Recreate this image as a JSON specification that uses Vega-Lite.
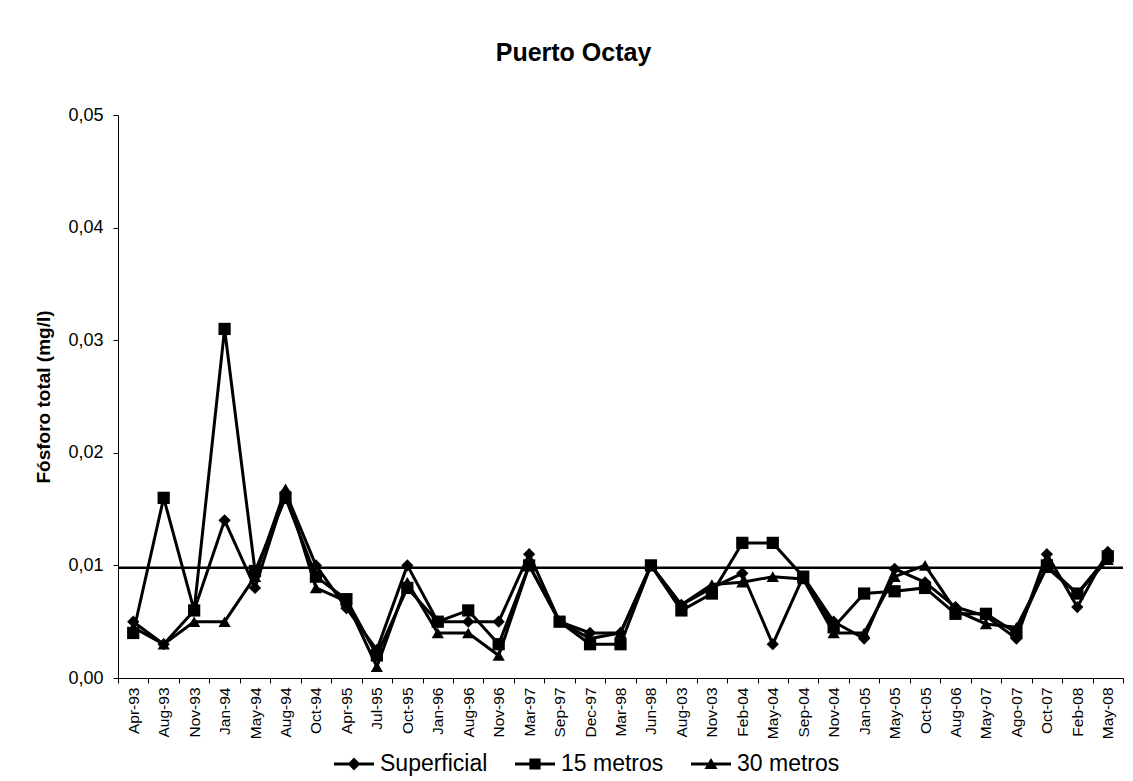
{
  "$schema": "https://vega.github.io/schema/vega-lite/v6.json",
  "autosize": {"type": "none"},
  "width": 1005,
  "height": 563,
  "padding": {"left": 118, "top": 115, "right": 10, "bottom": 103},
  "background": "white",
  "title": {
    "text": "Puerto Octay",
    "font": "Liberation Sans",
    "fontSize": 25,
    "fontWeight": "bold",
    "color": "black",
    "anchor": "middle",
    "dx": -47,
    "offset": 40
  },
  "datasets": {
    "obs": [
      {"fecha": "Apr-93", "serie": "Superficial", "valor": 0.005},
      {"fecha": "Aug-93", "serie": "Superficial", "valor": 0.003},
      {"fecha": "Nov-93", "serie": "Superficial", "valor": 0.006},
      {"fecha": "Jan-94", "serie": "Superficial", "valor": 0.014},
      {"fecha": "May-94", "serie": "Superficial", "valor": 0.008},
      {"fecha": "Aug-94", "serie": "Superficial", "valor": 0.0165},
      {"fecha": "Oct-94", "serie": "Superficial", "valor": 0.010},
      {"fecha": "Apr-95", "serie": "Superficial", "valor": 0.0062},
      {"fecha": "Jul-95", "serie": "Superficial", "valor": 0.0025},
      {"fecha": "Oct-95", "serie": "Superficial", "valor": 0.010},
      {"fecha": "Jan-96", "serie": "Superficial", "valor": 0.005},
      {"fecha": "Aug-96", "serie": "Superficial", "valor": 0.005},
      {"fecha": "Nov-96", "serie": "Superficial", "valor": 0.005},
      {"fecha": "Mar-97", "serie": "Superficial", "valor": 0.011},
      {"fecha": "Sep-97", "serie": "Superficial", "valor": 0.005},
      {"fecha": "Dec-97", "serie": "Superficial", "valor": 0.004},
      {"fecha": "Mar-98", "serie": "Superficial", "valor": 0.004},
      {"fecha": "Jun-98", "serie": "Superficial", "valor": 0.010},
      {"fecha": "Aug-03", "serie": "Superficial", "valor": 0.0065},
      {"fecha": "Nov-03", "serie": "Superficial", "valor": 0.008},
      {"fecha": "Feb-04", "serie": "Superficial", "valor": 0.0093},
      {"fecha": "May-04", "serie": "Superficial", "valor": 0.003},
      {"fecha": "Sep-04", "serie": "Superficial", "valor": 0.009},
      {"fecha": "Nov-04", "serie": "Superficial", "valor": 0.005},
      {"fecha": "Jan-05", "serie": "Superficial", "valor": 0.0035},
      {"fecha": "May-05", "serie": "Superficial", "valor": 0.0097},
      {"fecha": "Oct-05", "serie": "Superficial", "valor": 0.0085},
      {"fecha": "Aug-06", "serie": "Superficial", "valor": 0.0063},
      {"fecha": "May-07", "serie": "Superficial", "valor": 0.0055},
      {"fecha": "Ago-07", "serie": "Superficial", "valor": 0.0035},
      {"fecha": "Oct-07", "serie": "Superficial", "valor": 0.011},
      {"fecha": "Feb-08", "serie": "Superficial", "valor": 0.0063},
      {"fecha": "May-08", "serie": "Superficial", "valor": 0.0112},
      {"fecha": "Apr-93", "serie": "15 metros", "valor": 0.004},
      {"fecha": "Aug-93", "serie": "15 metros", "valor": 0.016},
      {"fecha": "Nov-93", "serie": "15 metros", "valor": 0.006},
      {"fecha": "Jan-94", "serie": "15 metros", "valor": 0.031},
      {"fecha": "May-94", "serie": "15 metros", "valor": 0.0095},
      {"fecha": "Aug-94", "serie": "15 metros", "valor": 0.016},
      {"fecha": "Oct-94", "serie": "15 metros", "valor": 0.009},
      {"fecha": "Apr-95", "serie": "15 metros", "valor": 0.007},
      {"fecha": "Jul-95", "serie": "15 metros", "valor": 0.002},
      {"fecha": "Oct-95", "serie": "15 metros", "valor": 0.008},
      {"fecha": "Jan-96", "serie": "15 metros", "valor": 0.005},
      {"fecha": "Aug-96", "serie": "15 metros", "valor": 0.006},
      {"fecha": "Nov-96", "serie": "15 metros", "valor": 0.003},
      {"fecha": "Mar-97", "serie": "15 metros", "valor": 0.010},
      {"fecha": "Sep-97", "serie": "15 metros", "valor": 0.005},
      {"fecha": "Dec-97", "serie": "15 metros", "valor": 0.003},
      {"fecha": "Mar-98", "serie": "15 metros", "valor": 0.003},
      {"fecha": "Jun-98", "serie": "15 metros", "valor": 0.010},
      {"fecha": "Aug-03", "serie": "15 metros", "valor": 0.006},
      {"fecha": "Nov-03", "serie": "15 metros", "valor": 0.0075},
      {"fecha": "Feb-04", "serie": "15 metros", "valor": 0.012},
      {"fecha": "May-04", "serie": "15 metros", "valor": 0.012},
      {"fecha": "Sep-04", "serie": "15 metros", "valor": 0.009},
      {"fecha": "Nov-04", "serie": "15 metros", "valor": 0.0045},
      {"fecha": "Jan-05", "serie": "15 metros", "valor": 0.0075},
      {"fecha": "May-05", "serie": "15 metros", "valor": 0.0077},
      {"fecha": "Oct-05", "serie": "15 metros", "valor": 0.008},
      {"fecha": "Aug-06", "serie": "15 metros", "valor": 0.0057},
      {"fecha": "May-07", "serie": "15 metros", "valor": 0.0057},
      {"fecha": "Ago-07", "serie": "15 metros", "valor": 0.004},
      {"fecha": "Oct-07", "serie": "15 metros", "valor": 0.010},
      {"fecha": "Feb-08", "serie": "15 metros", "valor": 0.0075},
      {"fecha": "May-08", "serie": "15 metros", "valor": 0.0108},
      {"fecha": "Apr-93", "serie": "30 metros", "valor": 0.0045},
      {"fecha": "Aug-93", "serie": "30 metros", "valor": 0.003},
      {"fecha": "Nov-93", "serie": "30 metros", "valor": 0.005},
      {"fecha": "Jan-94", "serie": "30 metros", "valor": 0.005},
      {"fecha": "May-94", "serie": "30 metros", "valor": 0.009},
      {"fecha": "Aug-94", "serie": "30 metros", "valor": 0.0168},
      {"fecha": "Oct-94", "serie": "30 metros", "valor": 0.008},
      {"fecha": "Apr-95", "serie": "30 metros", "valor": 0.0068},
      {"fecha": "Jul-95", "serie": "30 metros", "valor": 0.001},
      {"fecha": "Oct-95", "serie": "30 metros", "valor": 0.0085},
      {"fecha": "Jan-96", "serie": "30 metros", "valor": 0.004},
      {"fecha": "Aug-96", "serie": "30 metros", "valor": 0.004},
      {"fecha": "Nov-96", "serie": "30 metros", "valor": 0.002},
      {"fecha": "Mar-97", "serie": "30 metros", "valor": 0.010},
      {"fecha": "Sep-97", "serie": "30 metros", "valor": 0.005},
      {"fecha": "Dec-97", "serie": "30 metros", "valor": 0.0035},
      {"fecha": "Mar-98", "serie": "30 metros", "valor": 0.004},
      {"fecha": "Jun-98", "serie": "30 metros", "valor": 0.010},
      {"fecha": "Aug-03", "serie": "30 metros", "valor": 0.0065},
      {"fecha": "Nov-03", "serie": "30 metros", "valor": 0.0083},
      {"fecha": "Feb-04", "serie": "30 metros", "valor": 0.0085},
      {"fecha": "May-04", "serie": "30 metros", "valor": 0.009},
      {"fecha": "Sep-04", "serie": "30 metros", "valor": 0.0088},
      {"fecha": "Nov-04", "serie": "30 metros", "valor": 0.004},
      {"fecha": "Jan-05", "serie": "30 metros", "valor": 0.004},
      {"fecha": "May-05", "serie": "30 metros", "valor": 0.009},
      {"fecha": "Oct-05", "serie": "30 metros", "valor": 0.010},
      {"fecha": "Aug-06", "serie": "30 metros", "valor": 0.006},
      {"fecha": "May-07", "serie": "30 metros", "valor": 0.0048},
      {"fecha": "Ago-07", "serie": "30 metros", "valor": 0.0045},
      {"fecha": "Oct-07", "serie": "30 metros", "valor": 0.0098},
      {"fecha": "Feb-08", "serie": "30 metros", "valor": 0.0075},
      {"fecha": "May-08", "serie": "30 metros", "valor": 0.0105}
    ],
    "ref": [{"limite": 0.0098}]
  },
  "layer": [
    {
      "data": {"name": "ref"},
      "mark": {"type": "rule", "color": "black", "strokeWidth": 2.5},
      "encoding": {
        "y": {"field": "limite", "type": "quantitative", "scale": {"domain": [0, 0.05]}}
      }
    },
    {
      "data": {"name": "obs"},
      "mark": {"type": "line", "color": "black", "strokeWidth": 3},
      "encoding": {
        "x": {
          "field": "fecha", "type": "ordinal", "sort": null,
          "scale": {"paddingInner": 0, "paddingOuter": 0},
          "axis": {
            "title": null, "labelAngle": 270, "labelFontSize": 15.5,
            "labelFont": "Liberation Sans", "labelColor": "black",
            "tickBand": "extent", "tickSize": 5, "tickColor": "black",
            "domainColor": "black", "labelPadding": 4, "labelOverlap": false
          }
        },
        "y": {
          "field": "valor", "type": "quantitative",
          "scale": {"domain": [0, 0.05], "nice": false},
          "axis": {
            "title": "Fósforo total (mg/l)",
            "titleFont": "Liberation Sans", "titleFontSize": 19, "titleFontWeight": "bold",
            "titleColor": "black", "titlePadding": 14,
            "values": [0, 0.01, 0.02, 0.03, 0.04, 0.05],
            "labelExpr": "replace(format(datum.value, '.2f'), '.', ',')",
            "labelFont": "Liberation Sans", "labelFontSize": 18, "labelColor": "black",
            "labelPadding": 10, "tickSize": 5, "tickColor": "black",
            "domainColor": "black", "grid": false
          }
        },
        "detail": {"field": "serie", "type": "nominal"}
      }
    },
    {
      "data": {"name": "obs"},
      "mark": {"type": "point", "filled": true, "color": "black", "opacity": 1, "size": 150},
      "encoding": {
        "x": {"field": "fecha", "type": "ordinal", "sort": null},
        "y": {"field": "valor", "type": "quantitative"},
        "shape": {
          "field": "serie", "type": "nominal",
          "scale": {"domain": ["Superficial", "15 metros", "30 metros"], "range": ["diamond", "square", "triangle-up"]},
          "legend": null
        }
      }
    },
    {
      "data": {"name": "obs"},
      "mark": {"type": "point", "filled": true, "color": "black", "opacity": 0, "size": 10},
      "encoding": {
        "x": {"field": "fecha", "type": "ordinal", "sort": null},
        "y": {"field": "valor", "type": "quantitative"},
        "shape": {
          "field": "serie", "type": "nominal",
          "scale": {
            "domain": ["Superficial", "15 metros", "30 metros"],
            "range": [
              "M-1,-0.07H1V0.07H-1ZM0,-0.32L0.32,0L0,0.32L-0.32,0Z",
              "M-1,-0.07H1V0.07H-1ZM-0.28,-0.28H0.28V0.28H-0.28Z",
              "M-1,-0.07H1V0.07H-1ZM0,-0.3L0.33,0.25H-0.33Z"
            ]
          },
          "legend": {
            "title": null, "orient": "none", "direction": "horizontal",
            "legendX": 215, "legendY": 628,
            "symbolSize": 1600, "symbolOpacity": 1,
            "symbolFillColor": "black",
            "labelFont": "Liberation Sans", "labelFontSize": 23, "labelColor": "black",
            "labelOffset": 5, "columnPadding": 24, "labelLimit": 300,
            "encode": {
              "symbols": {
                "update": {
                  "fill": {"value": "black"},
                  "opacity": {"value": 1},
                  "fillOpacity": {"value": 1}
                }
              }
            }
          }
        }
      }
    }
  ],
  "resolve": {"scale": {"shape": "independent"}},
  "config": {
    "view": {"stroke": null},
    "axis": {"domainWidth": 1, "tickWidth": 1}
  }
}
